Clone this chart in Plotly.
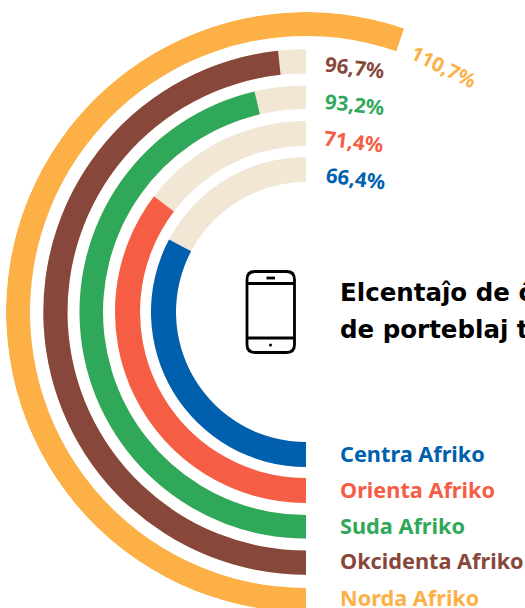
import math
import plotly.graph_objects as go

categories = ["Centra Afriko", "Orienta Afriko", "Suda Afriko", "Okcidenta Afriko", "Norda Afriko"]
values = [65.5, 70.7, 92.7, 96.6, 110.6]
value_labels = ["66,4%", "71,4%", "93,2%", "96,7%", "110,7%"]
track_value = 100
title_lines = ["Elcentaĵo de ĉ", "de porteblaj t"]

colors = ["#0060AE", "#F55D45", "#2FA85A", "#88473B", "#FDB045"]
track_color = "#F2E6D5"
inner_radius = [130, 166, 203, 238.5, 276]
thickness = [25, 25, 23.5, 24.2, 24]
DEG_PER_PCT = 1.8

W, H = 525, 624
font_family = "Noto Sans"
title_family = "DejaVu Sans"


def px(x):
    return x / W


def py(y):
    return 1 - y / H


fig = go.Figure()
fig.add_trace(go.Barpolar(
    r=thickness[:4], base=inner_radius[:4],
    theta=[track_value * DEG_PER_PCT / 2] * 4,
    width=[track_value * DEG_PER_PCT] * 4,
    marker=dict(color=track_color, line=dict(width=0)),
    hoverinfo="skip", showlegend=False,
))
fig.add_trace(go.Barpolar(
    r=thickness, base=inner_radius,
    theta=[v * DEG_PER_PCT / 2 for v in values],
    width=[v * DEG_PER_PCT for v in values],
    marker=dict(color=colors, line=dict(width=0)),
    text=categories, hoverinfo="text", showlegend=False,
))

annotations = []
label_pos = [(355.5, 177.5, 7), (353.5, 141, 7), (354.5, 104, 6), (354.5, 67.5, 7), (443.5, 66.5, 26)]
for lab, col, (x, y, ang) in zip(value_labels, colors, label_pos):
    annotations.append(dict(
        text=f"<b>{lab}</b>", x=px(x), y=py(y), xref="paper", yref="paper",
        xanchor="center", yanchor="middle", showarrow=False, textangle=ang,
        font=dict(family=font_family, size=20.5 if ang < 20 else 20, color=col)))
legend_y = [453, 489.5, 525, 560.5, 597]
for cat, col, y in zip(categories, colors, legend_y):
    annotations.append(dict(
        text=f"<b>{cat}</b>", x=px(340), y=py(y), xref="paper", yref="paper",
        xanchor="left", yanchor="middle", showarrow=False, align="left",
        xshift=-2, font=dict(family=font_family, size=21.7, color=col)))
for line, y in zip(title_lines, [292, 329]):
    annotations.append(dict(
        text=f"<b>{line}</b>", x=px(340), y=py(y), xref="paper", yref="paper",
        xanchor="left", yanchor="middle", showarrow=False, align="left",
        xshift=-2, font=dict(family=title_family, size=24.5, color="#000000")))

# phone icon
L, R, T, B, c = 247, 294.5, 271.5, 352.5, 8
body = (f"M{px(L+c)},{py(T)} L{px(R-c)},{py(T)} Q{px(R)},{py(T)} {px(R)},{py(T+c)} "
        f"L{px(R)},{py(B-c)} Q{px(R)},{py(B)} {px(R-c)},{py(B)} L{px(L+c)},{py(B)} "
        f"Q{px(L)},{py(B)} {px(L)},{py(B-c)} L{px(L)},{py(T+c)} Q{px(L)},{py(T)} {px(L+c)},{py(T)} Z")
icon_line = dict(color="#000000", width=2.8)
shapes = [
    dict(type="path", path=body, xref="paper", yref="paper", line=icon_line),
    dict(type="line", x0=px(L), x1=px(R), y0=py(283.5), y1=py(283.5), xref="paper", yref="paper", line=icon_line),
    dict(type="line", x0=px(L), x1=px(R), y0=py(338), y1=py(338), xref="paper", yref="paper", line=icon_line),
    dict(type="line", x0=px(266.5), x1=px(275), y0=py(278), y1=py(278), xref="paper", yref="paper",
         line=dict(color="#000000", width=2.8)),
    dict(type="circle", x0=px(269), x1=px(272), y0=py(343.5), y1=py(346.5), xref="paper", yref="paper",
         fillcolor="#000000", line=dict(width=0)),
]

SECTOR_END = 70
box_w = 300 * (1 + math.cos(math.radians(SECTOR_END)))
fig.update_layout(
    width=W, height=H, autosize=False,
    margin=dict(l=0, r=0, t=0, b=0, pad=0),
    paper_bgcolor="#ffffff",
    showlegend=False,
    annotations=annotations, shapes=shapes,
    polar=dict(
        domain=dict(x=[6 / W, (6 + box_w) / W], y=[1 - 612 / H, 1 - 12 / H]),
        bgcolor="rgba(0,0,0,0)",
        barmode="overlay",
        sector=[SECTOR_END, 270],
        radialaxis=dict(visible=False, range=[0, 300]),
        angularaxis=dict(visible=False, direction="clockwise", rotation=270, thetaunit="degrees"),
    ),
)
fig.write_html("out.html", config={"displayModeBar": False},
               post_script="document.documentElement.style.overflow='hidden';document.body.style.overflow='hidden';document.body.style.margin='0';")
